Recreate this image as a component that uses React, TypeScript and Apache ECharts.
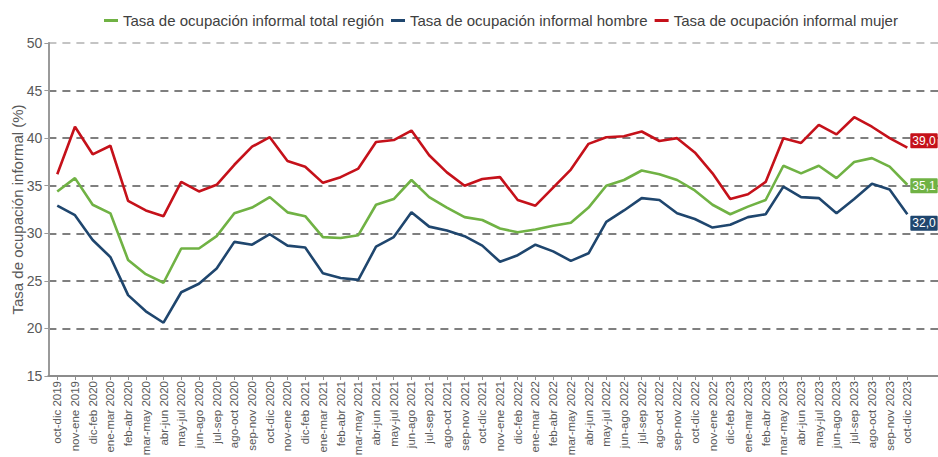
import React, { useEffect, useRef } from "react";
import * as echarts from "echarts";

const categories: string[] = [
  "oct-dic 2019", "nov-ene 2019", "dic-feb 2020", "ene-mar 2020", "feb-abr 2020", "mar-may 2020",
  "abr-jun 2020", "may-jul 2020", "jun-ago 2020", "jul-sep 2020", "ago-oct 2020", "sep-nov 2020",
  "oct-dic 2020", "nov-ene 2020", "dic-feb 2021", "ene-mar 2021", "feb-abr 2021", "mar-may 2021",
  "abr-jun 2021", "may-jul 2021", "jun-ago 2021", "jul-sep 2021", "ago-oct 2021", "sep-nov 2021",
  "oct-dic 2021", "nov-ene 2021", "dic-feb 2022", "ene-mar 2022", "feb-abr 2022", "mar-may 2022",
  "abr-jun 2022", "may-jul 2022", "jun-ago 2022", "jul-sep 2022", "ago-oct 2022", "sep-nov 2022",
  "oct-dic 2022", "nov-ene 2022", "dic-feb 2023", "ene-mar 2023", "feb-abr 2023", "mar-may 2023",
  "abr-jun 2023", "may-jul 2023", "jun-ago 2023", "jul-sep 2023", "ago-oct 2023", "sep-nov 2023",
  "oct-dic 2023",
];

// trailing empty slots (room on the right of the plot, as in the original)
const paddingCategories: string[] = ["", ""];

const totalRegion: number[] = [
  34.4, 35.8, 33.0, 32.1, 27.2, 25.7, 24.8, 28.4, 28.4, 29.7, 32.1, 32.7,
  33.8, 32.2, 31.8, 29.6, 29.5, 29.8, 33.0, 33.6, 35.6, 33.8, 32.7, 31.7,
  31.4, 30.5, 30.1, 30.4, 30.8, 31.1, 32.7, 35.0, 35.6, 36.6, 36.2, 35.6,
  34.5, 33.0, 32.0, 32.8, 33.5, 37.1, 36.3, 37.1, 35.8, 37.5, 37.9, 37.0,
  35.1,
];

const hombre: number[] = [
  32.9, 31.9, 29.3, 27.5, 23.5, 21.8, 20.6, 23.8, 24.7, 26.3, 29.1, 28.8,
  29.9, 28.7, 28.5, 25.8, 25.3, 25.1, 28.6, 29.6, 32.2, 30.7, 30.3, 29.7,
  28.7, 27.0, 27.7, 28.8, 28.1, 27.1, 27.9, 31.2, 32.4, 33.7, 33.5, 32.1,
  31.5, 30.6, 30.9, 31.7, 32.0, 34.9, 33.8, 33.7, 32.1, 33.6, 35.2, 34.6,
  32.0,
];

const mujer: number[] = [
  36.2, 41.2, 38.3, 39.2, 33.4, 32.4, 31.8, 35.4, 34.4, 35.1, 37.2, 39.1,
  40.1, 37.6, 37.0, 35.3, 35.9, 36.8, 39.6, 39.8, 40.8, 38.2, 36.4, 35.0,
  35.7, 35.9, 33.5, 32.9, 34.8, 36.7, 39.4, 40.1, 40.2, 40.7, 39.7, 40.0,
  38.5, 36.3, 33.6, 34.1, 35.4, 40.0, 39.5, 41.4, 40.4, 42.2, 41.2, 40.0,
  39.0,
];

const seriesNames: string[] = [
  "Tasa de ocupación informal total región",
  "Tasa de ocupación informal hombre",
  "Tasa de ocupación informal mujer",
];

const yTicks: number[] = [15, 20, 25, 30, 35, 40, 45, 50];

const GREEN = "#70b244";
const BLUE = "#1f466e";
const RED = "#c5111a";
const FONT = "'Liberation Sans', Arial, sans-serif";

const fmt = (v: number) => v.toFixed(1).replace(".", ",");

export default function App() {
  const ref = useRef<HTMLDivElement>(null);

  useEffect(() => {
    document.body.style.margin = "0";
    document.body.style.overflow = "hidden";
    if (!ref.current) return;
    const chart = echarts.init(ref.current, null, { renderer: "svg" });
    const xData = [...categories, ...paddingCategories];
    const step = 17.71;

    const mk = (name: string, data: number[], color: string, offY: number) => ({
      name,
      type: "line",
      data,
      symbol: "none",
      smooth: false,
      lineStyle: { color, width: 2.6 },
      itemStyle: { color },
      endLabel: {
        show: true,
        formatter: (p: any) => fmt(p.value),
        color: "#ffffff",
        backgroundColor: color,
        fontSize: 12,
        fontFamily: FONT,
        padding: [2, 2, 1, 2],
        borderRadius: 1,
        distance: 3,
        offset: [0, offY],
      },
    });

    chart.setOption({
      animation: false,
      backgroundColor: "#ffffff",
      textStyle: { fontFamily: FONT },
      legend: {
        left: 99,
        top: 8,
        itemWidth: 14,
        itemHeight: 3,
        itemGap: 7,
        icon: "rect",
        textStyle: { fontSize: 15, color: "#404040", fontFamily: FONT },
        data: seriesNames,
      },
      grid: {
        left: 48.4,
        top: 43,
        width: step * xData.length,
        height: 333,
        containLabel: false,
        outerBoundsMode: "none",
      },
      xAxis: {
        type: "category",
        data: xData,
        boundaryGap: true,
        axisLine: { show: true, lineStyle: { color: "#8c8c8c", width: 2 } },
        axisTick: {
          show: true,
          alignWithLabel: true,
          length: 4,
          interval: (_i: number, v: string) => v !== "",
          lineStyle: { color: "#8c8c8c", width: 1 },
        },
        axisLabel: {
          interval: 0,
          rotate: 90,
          fontSize: 11.5,
          color: "#595959",
          margin: 5,
          fontFamily: FONT,
        },
        splitLine: { show: false },
      },
      yAxis: {
        type: "value",
        min: yTicks[0],
        max: yTicks[yTicks.length - 1],
        interval: 5,
        name: "Tasa de ocupación informal (%)",
        nameLocation: "middle",
        nameGap: 23,
        nameMoveOverlap: false,
        nameTextStyle: { fontSize: 15, color: "#595959", fontFamily: FONT },
        axisLine: { show: true, lineStyle: { color: "#9a9a9a", width: 2 } },
        axisTick: { show: true, length: 4, lineStyle: { color: "#9a9a9a" } },
        axisLabel: { fontSize: 14, color: "#595959", margin: 6, fontFamily: FONT },
        splitLine: {
          show: true,
          lineStyle: {
            color: ["#7f7f7f", "#7f7f7f", "#7f7f7f", "#7f7f7f", "#7f7f7f", "#7f7f7f", "#7f7f7f", "#c4c4c4"],
            width: 2,
            type: [8, 6],
          },
        },
      },
      series: [
        mk(seriesNames[0], totalRegion, GREEN, 1),
        mk(seriesNames[1], hombre, BLUE, 9),
        mk(seriesNames[2], mujer, RED, -7),
      ],
    });

    return () => chart.dispose();
  }, []);

  return (
    <div style={{ width: 938, height: 457, overflow: "hidden", background: "#fff" }}>
      <div ref={ref} style={{ width: 938, height: 457 }} />
    </div>
  );
}
